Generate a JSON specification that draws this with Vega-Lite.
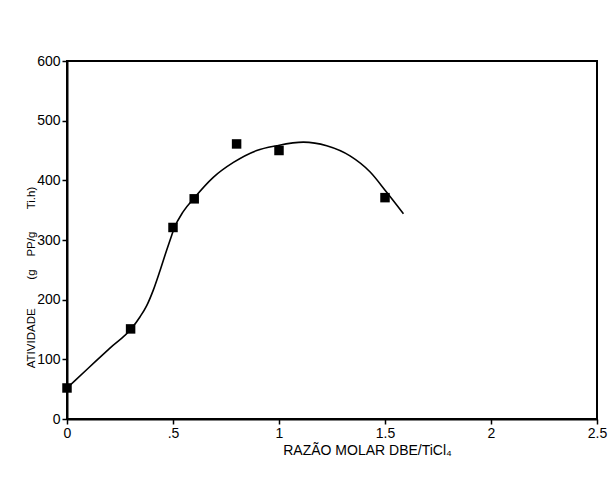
{
  "$schema": "https://vega.github.io/schema/vega-lite/v6.json",
  "width": 530,
  "height": 358,
  "autosize": "none",
  "padding": {"left": 67, "top": 61, "right": 16, "bottom": 75},
  "background": "white",
  "config": {
    "view": {"stroke": "black", "strokeWidth": 2},
    "font": "Liberation Sans",
    "axis": {
      "domainColor": "black",
      "domainWidth": 2,
      "tickColor": "black",
      "tickWidth": 1.5,
      "tickSize": 5,
      "grid": false,
      "labelColor": "black",
      "labelFont": "Liberation Sans",
      "labelFontSize": 14,
      "titleFont": "Liberation Sans",
      "titleFontWeight": "normal",
      "titleColor": "black"
    }
  },
  "datasets": {
    "pts": [
      {"x": 0, "y": 52},
      {"x": 0.3, "y": 151},
      {"x": 0.5, "y": 321},
      {"x": 0.6, "y": 369},
      {"x": 0.8, "y": 461},
      {"x": 1.0, "y": 450},
      {"x": 1.5, "y": 371}
    ],
    "curve": [
      {"x": 0, "y": 52},
      {"x": 0.1, "y": 85},
      {"x": 0.2, "y": 118},
      {"x": 0.305, "y": 152},
      {"x": 0.344, "y": 171},
      {"x": 0.376, "y": 190},
      {"x": 0.407, "y": 216},
      {"x": 0.439, "y": 249},
      {"x": 0.47, "y": 283},
      {"x": 0.494, "y": 308},
      {"x": 0.505, "y": 319},
      {"x": 0.549, "y": 348},
      {"x": 0.599, "y": 370},
      {"x": 0.69, "y": 405},
      {"x": 0.785, "y": 430},
      {"x": 0.895, "y": 450},
      {"x": 0.989, "y": 458},
      {"x": 1.115, "y": 464},
      {"x": 1.225, "y": 458},
      {"x": 1.335, "y": 441},
      {"x": 1.43, "y": 414},
      {"x": 1.508, "y": 380},
      {"x": 1.587, "y": 344}
    ]
  },
  "encoding": {
    "x": {
      "field": "x",
      "type": "quantitative",
      "scale": {"domain": [0, 2.5], "nice": false, "zero": false},
      "axis": {
        "values": [0, 0.5, 1, 1.5, 2, 2.5],
        "format": "~g",
        "labelExpr": "datum.value == 0.5 ? '.5' : datum.label",
        "labelPadding": 2,
        "labelFlush": false,
        "title": "RAZÃO MOLAR DBE/TiCl₄",
        "titleFontSize": 14,
        "titleX": 300,
        "titleY": 31,
        "titleBaseline": "middle",
        "titleAnchor": null
      }
    },
    "y": {
      "field": "y",
      "type": "quantitative",
      "scale": {"domain": [0, 600], "nice": false},
      "axis": {
        "values": [0, 100, 200, 300, 400, 500, 600],
        "labelPadding": 2,
        "labelFlush": false,
        "title": "ATIVIDADE\u00a0\u00a0\u00a0\u00a0\u00a0\u00a0\u00a0\u00a0\u00a0(g\u00a0\u00a0\u00a0\u00a0PP/g\u00a0\u00a0\u00a0\u00a0\u00a0\u00a0\u00a0Ti.h)",
        "titleFontSize": 11.5,
        "titleAngle": -90,
        "titleX": -33,
        "titleY": 216,
        "titleAlign": "center",
        "titleBaseline": "alphabetic"
      }
    }
  },
  "layer": [
    {
      "data": {"name": "curve"},
      "mark": {"type": "line", "color": "black", "strokeWidth": 1.6, "interpolate": "monotone"}
    },
    {
      "data": {"name": "pts"},
      "mark": {"type": "point", "shape": "square", "filled": true, "color": "black", "opacity": 1, "size": 90}
    }
  ]
}
